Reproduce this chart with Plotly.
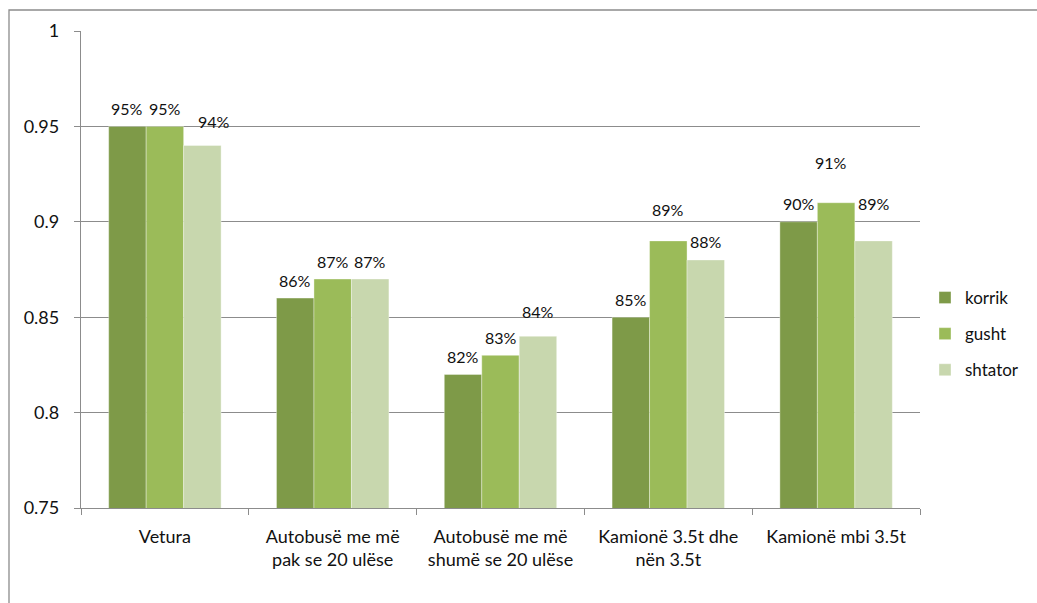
import plotly.graph_objects as go

categories = ["Vetura", "Autobusë me më<br>pak se 20 ulëse", "Autobusë me më<br>shumë se 20 ulëse",
              "Kamionë 3.5t dhe<br>nën 3.5t", "Kamionë mbi 3.5t"]
series_names = ["korrik", "gusht", "shtator"]
korrik = [0.95, 0.86, 0.82, 0.85, 0.90]
gusht = [0.95, 0.87, 0.83, 0.89, 0.91]
shtator = [0.94, 0.87, 0.84, 0.88, 0.89]
y_ticks = [0.75, 0.8, 0.85, 0.9, 0.95, 1]
y_ticktext = ["0.75", "0.8", "0.85", "0.9", "0.95", "1"]

colors = ["#7E9A48", "#9BBB59", "#C8D7AE"]
values = [korrik, gusht, shtator]

# extra label lift (px) / sideways nudge for labels Excel moved
label_lift = {(0, 2): 6, (2, 2): 7, (3, 1): 13, (4, 1): 22, (4, 2): 19}
label_nudge = {(0, 2): 12, (4, 1): -5}

FONT = "Lato"
fig = go.Figure()
for s, (name, vals, col) in enumerate(zip(series_names, values, colors)):
    fig.add_trace(go.Bar(
        x=categories, y=vals, name=name, legendgroup=name,
        marker=dict(color=col, line=dict(width=0.6, color="rgba(255,255,255,0.6)")),
        hoverinfo="x+y+name",
    ))

# plot geometry (px) for label placement
L, R, T, B = 81, 117, 31, 95
W = 1037 - L - R
H = 603 - T - B
bargap = 0.33
cat_w = W / len(categories)
bar_w = cat_w * (1 - bargap) / 3

for s, vals in enumerate(values):
    for c, v in enumerate(vals):
        fig.add_annotation(
            x=categories[c], y=v, xref="x", yref="y",
            text=f"{round(v * 100)}%", showarrow=False,
            xshift=(s - 1) * bar_w + label_nudge.get((c, s), 0),
            yshift=18 + label_lift.get((c, s), 0),
            yanchor="middle", xanchor="center",
            font=dict(family=FONT, size=16, color="#111111"),
        )

# outer chart border
fig.add_shape(type="rect", xref="paper", yref="paper",
              x0=(9 - L) / W, x1=(1045 - L) / W,
              y0=-0.3, y1=(603 - B - 10) / H,
              line=dict(color="#8C8C8C", width=1.3), fillcolor="rgba(0,0,0,0)", layer="below")

fig.update_layout(
    width=1037, height=603,
    barmode="group", bargap=bargap, bargroupgap=0,
    margin=dict(l=L, r=R, t=T, b=B, autoexpand=False),
    paper_bgcolor="white", plot_bgcolor="white",
    font=dict(family=FONT, size=17, color="#111111"),
    showlegend=True,
    legend=dict(x=(925 - L) / W, y=(603 - B - 334) / H, xanchor="left", yanchor="middle",
                font=dict(family=FONT, size=17), tracegroupgap=11, itemclick=False),
    xaxis=dict(showline=True, linecolor="#8C8C8C", linewidth=1.3, ticks="outside",
               tickson="boundaries", ticklen=6, tickcolor="#8C8C8C", ticklabelstandoff=12,
               showgrid=False, tickfont=dict(family=FONT, size=18)),
    yaxis=dict(range=[0.75, 1], tickvals=y_ticks, ticktext=y_ticktext, showline=True,
               linecolor="#8C8C8C", linewidth=1.3, ticks="outside", ticklen=6, tickcolor="#8C8C8C",
               showgrid=True, gridcolor="#8C8C8C", gridwidth=1.3, zeroline=False,
               ticklabelstandoff=11, tickfont=dict(family=FONT, size=18)),
)

fig.write_html(
    "out.html",
    post_script=("document.body.style.margin='0';"
                 "document.body.style.overflow='hidden';"
                 "document.documentElement.style.overflow='hidden';"),
    config={"displayModeBar": False},
)
